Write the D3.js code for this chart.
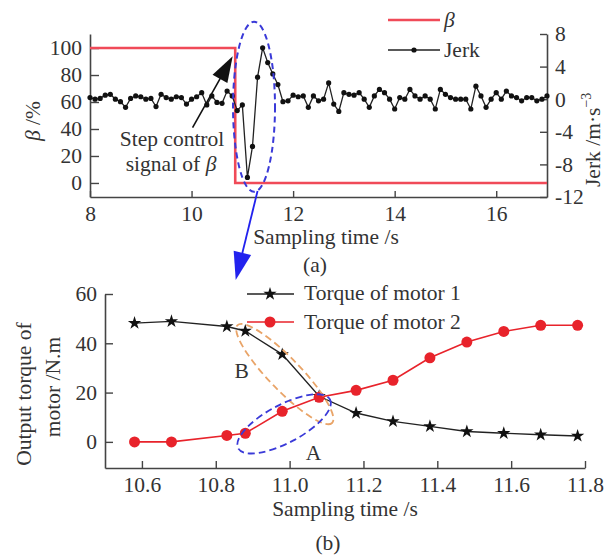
<!DOCTYPE html>
<html><head><meta charset="utf-8">
<script src="https://cdn.jsdelivr.net/npm/d3@7"></script>
<style>
body{margin:0;background:#fff;}
svg text{font-family:"Liberation Serif","Times New Roman",serif;fill:#333;}
</style></head>
<body><svg id="c" width="606" height="560"></svg>
<script>
// ---------- data: panel (a) ----------
const betaTime = [8, 10.86, 10.86, 17];
const betaValue = [100, 100, 0, 0];
const jerkTime = [8.0,8.1,8.2,8.3,8.4,8.5,8.6,8.7,8.8,8.9,9.0,9.1,9.2,9.3,9.4,9.5,9.6,9.7,9.8,9.9,
  10.0,10.1,10.2,10.3,10.4,10.5,10.6,10.7,10.8,10.9,11.0,11.1,11.2,11.3,11.4,11.5,11.6,11.7,11.8,11.9,
  12.0,12.1,12.2,12.3,12.4,12.5,12.6,12.7,12.8,12.9,13.0,13.1,13.2,13.3,13.4,13.5,13.6,13.7,13.8,13.9,
  14.0,14.1,14.2,14.3,14.4,14.5,14.6,14.7,14.8,14.9,15.0,15.1,15.2,15.3,15.4,15.5,15.6,15.7,15.8,15.9,
  16.0,16.1,16.2,16.3,16.4,16.5,16.6,16.7,16.8,16.9,17.0];
const jerkValue = [0.2,0.0,0.1,0.5,0.6,0.0,-0.3,-1.0,0.1,0.4,0.3,0.0,0.1,-0.9,0.6,0.2,0.0,0.3,0.2,-0.6,
  0.0,0.3,0.8,-0.7,0.4,-0.4,-0.5,1.0,0.4,-1.4,-0.7,-9.6,-5.8,2.7,6.3,4.5,3.1,1.8,-0.3,-0.2,
  0.5,0.3,0.4,-1.0,0.4,-0.2,0.0,2.0,-0.6,-1.5,0.8,0.6,0.5,0.8,0.0,-1.0,0.4,1.2,0.8,0.0,
  -1.2,0.2,0.0,1.2,0.4,0.0,0.4,0.0,-1.2,1.2,0.6,0.2,0.0,0.0,0.0,-1.2,1.6,0.4,-1.0,0.0,
  0.8,0.0,1.0,0.4,0.2,-0.2,0.2,0.2,-0.2,0.0,0.4];
const aXTicks = [8, 10, 12, 14, 16];
const aLeftTicks = [0, 20, 40, 60, 80, 100];
const aRightTicks = [-12, -8, -4, 0, 4, 8];

// ---------- data: panel (b) ----------
const torqueTime = [10.58,10.68,10.83,10.88,10.98,11.08,11.18,11.28,11.38,11.48,11.58,11.68,11.78];
const torqueMotor1 = [48.2,48.9,46.8,45.0,35.5,18.5,11.7,8.3,6.3,4.2,3.5,2.9,2.4];
const torqueMotor2 = [0.0,0.0,2.6,3.5,12.4,18.1,20.9,25.0,34.1,40.5,44.8,47.3,47.3];
const bXTicks = [10.6, 10.8, 11.0, 11.2, 11.4, 11.6, 11.8];
const bYTicks = [0, 20, 40, 60];

const svg = d3.select("#c");
const AX = "#444", FS = 21.5;
const RED_A = "#f04a58", RED_B = "#e8232b", BLUE = "#3a3ad8", ORANGE = "#e9a468";

function styleAxis(g){
  g.select(".domain").attr("stroke", AX).attr("stroke-width", 1.6);
  g.selectAll(".tick line").attr("stroke", AX).attr("stroke-width", 1.4);
  g.selectAll(".tick text").attr("font-size", FS).attr("fill", "#333")
    .attr("font-family", '"Liberation Serif","Times New Roman",serif');
}

// ================= Panel (a) =================
const xA = d3.scaleLinear().domain([8, 17]).range([90, 547]);
const yL = d3.scaleLinear().domain([-10.4, 110.4]).range([197, 34]);
const yR = d3.scaleLinear().domain([-12, 8]).range([197, 34]);

const gA = svg.append("g");
gA.append("g").attr("transform", "translate(0,197)")
  .call(d3.axisBottom(xA).tickValues(aXTicks).tickSize(-6).tickSizeOuter(0).tickPadding(9).tickFormat(d3.format("d")))
  .call(styleAxis);
gA.append("g").attr("transform", "translate(90,0)")
  .call(d3.axisLeft(yL).tickValues(aLeftTicks).tickSize(-9).tickSizeOuter(0).tickPadding(8).tickFormat(d3.format("d")))
  .call(styleAxis);
gA.append("g").attr("transform", "translate(547,0)")
  .call(d3.axisRight(yR).tickValues(aRightTicks).tickSize(-7).tickSizeOuter(0).tickPadding(8).tickFormat(d => d < 0 ? "-" + Math.abs(d) : d))
  .call(styleAxis);

// beta step
const betaData = betaTime.map((t, i) => [t, betaValue[i]]);
gA.append("path").datum(betaData)
  .attr("d", d3.line().x(d => xA(d[0])).y(d => yL(d[1])))
  .attr("fill", "none").attr("stroke", RED_A).attr("stroke-width", 2.6);

// jerk
const jerkData = jerkTime.map((t, i) => [t, jerkValue[i]]);
gA.append("path").datum(jerkData)
  .attr("d", d3.line().x(d => xA(d[0])).y(d => yR(d[1])))
  .attr("fill", "none").attr("stroke", "#222").attr("stroke-width", 1.3);
gA.selectAll("circle.j").data(jerkData).enter().append("circle")
  .attr("cx", d => xA(d[0])).attr("cy", d => yR(d[1])).attr("r", 2.6).attr("fill", "#111");

// annotation ellipse (a)
const eAx = xA(11.23), eAy = yL(56.5);
gA.append("ellipse").attr("cx", eAx).attr("cy", eAy).attr("rx", 21).attr("ry", 85)
  .attr("fill", "none").attr("stroke", BLUE).attr("stroke-width", 2).attr("stroke-dasharray", "6,4");

function arrow(g, x1, y1, x2, y2, color, w, hl, hw){
  const dx = x2 - x1, dy = y2 - y1, L = Math.hypot(dx, dy), ux = dx / L, uy = dy / L;
  const bx = x2 - ux * hl, by = y2 - uy * hl;
  g.append("line").attr("x1", x1).attr("y1", y1).attr("x2", bx + ux * 2).attr("y2", by + uy * 2)
    .attr("stroke", color).attr("stroke-width", w);
  g.append("path").attr("d", `M${x2},${y2}L${bx - uy * hw / 2},${by + ux * hw / 2}L${bx + uy * hw / 2},${by - ux * hw / 2}Z`)
    .attr("fill", color);
}
// black arrow to the step
arrow(gA, xA(10.02), yL(41), xA(10.81), yL(94), "#111", 1.6, 26, 17);
gA.append("text").attr("x", 172).attr("y", 146).attr("text-anchor", "middle").attr("font-size", FS).text("Step control");
const st = gA.append("text").attr("x", 171).attr("y", 171).attr("text-anchor", "middle").attr("font-size", FS);
st.append("tspan").text("signal of ");
st.append("tspan").attr("font-style", "italic").text("β");

// blue arrow to panel (b)
arrow(svg, xA(11.3), 191, xA(10.87), 280, "#2222ee", 1.8, 28, 18);

// axis titles (a)
svg.append("text").attr("transform", "translate(40,121) rotate(-90)").attr("text-anchor", "middle")
  .attr("font-size", FS).html('<tspan font-style="italic">β</tspan> /%');
const jl = svg.append("text").attr("transform", "translate(600,187) rotate(-90)").attr("font-size", FS);
jl.append("tspan").text("Jerk /m·s");
jl.append("tspan").attr("font-size", 14).attr("dy", -9).text("−3");
svg.append("text").attr("x", 326).attr("y", 244).attr("text-anchor", "middle").attr("font-size", FS).text("Sampling time /s");
svg.append("text").attr("x", 315).attr("y", 272).attr("text-anchor", "middle").attr("font-size", FS).text("(a)");

// legend (a)
const lgA = svg.append("g");
lgA.append("line").attr("x1", 388).attr("x2", 440).attr("y1", 20).attr("y2", 20).attr("stroke", RED_A).attr("stroke-width", 2.6);
lgA.append("text").attr("x", 444).attr("y", 27).attr("font-size", FS).attr("font-style", "italic").text("β");
lgA.append("line").attr("x1", 388).attr("x2", 440).attr("y1", 50).attr("y2", 50).attr("stroke", "#222").attr("stroke-width", 1.3);
lgA.append("circle").attr("cx", 414).attr("cy", 50).attr("r", 2.6).attr("fill", "#111");
lgA.append("text").attr("x", 444).attr("y", 57).attr("font-size", FS).text("Jerk");

// ================= Panel (b) =================
const xB = d3.scaleLinear().domain([10.5, 11.8]).range([105, 585]);
const yB = d3.scaleLinear().domain([-10.6, 60]).range([468, 294]);
const gB = svg.append("g");
gB.append("g").attr("transform", "translate(0,468)")
  .call(d3.axisBottom(xB).tickValues(bXTicks).tickSize(-7).tickSizeOuter(0).tickPadding(9).tickFormat(d3.format(".1f")))
  .call(styleAxis);
gB.append("g").attr("transform", "translate(105,0)")
  .call(d3.axisLeft(yB).tickValues(bYTicks).tickSize(-8).tickSizeOuter(0).tickPadding(8).tickFormat(d3.format("d")))
  .call(styleAxis);

const m1 = torqueTime.map((t, i) => [t, torqueMotor1[i]]);
const m2 = torqueTime.map((t, i) => [t, torqueMotor2[i]]);
const lineB = d3.line().x(d => xB(d[0])).y(d => yB(d[1]));

gB.append("path").datum(m1).attr("d", lineB).attr("fill", "none").attr("stroke", "#222").attr("stroke-width", 1.4);
gB.append("path").datum(m2).attr("d", lineB).attr("fill", "none").attr("stroke", RED_B).attr("stroke-width", 1.6);
const star = d3.symbol().type(d3.symbolStar).size(55);
gB.selectAll("path.s").data(m1).enter().append("path")
  .attr("d", star).attr("transform", d => `translate(${xB(d[0])},${yB(d[1])})`).attr("fill", "#111");
gB.selectAll("circle.m2").data(m2).enter().append("circle")
  .attr("cx", d => xB(d[0])).attr("cy", d => yB(d[1])).attr("r", 5.5).attr("fill", RED_B);

// ellipse B (orange) and A (blue)
gB.append("ellipse").attr("transform", `translate(${xB(10.987)},${yB(27.5)}) rotate(46)`)
  .attr("rx", 68).attr("ry", 16).attr("fill", "none").attr("stroke", ORANGE).attr("stroke-width", 1.8).attr("stroke-dasharray", "7,4");
gB.append("ellipse").attr("transform", `translate(${xB(10.985)},${yB(7.3)}) rotate(-28)`)
  .attr("rx", 52).attr("ry", 19).attr("fill", "none").attr("stroke", BLUE).attr("stroke-width", 1.8).attr("stroke-dasharray", "7,4");
gB.append("text").attr("x", xB(10.87)).attr("y", yB(26)).attr("text-anchor", "middle").attr("font-size", FS).text("B");
gB.append("text").attr("x", xB(11.065)).attr("y", yB(-7.5)).attr("text-anchor", "middle").attr("font-size", FS).text("A");

// legend (b)
const lgB = svg.append("g");
lgB.append("line").attr("x1", 247).attr("x2", 294).attr("y1", 294).attr("y2", 294).attr("stroke", "#222").attr("stroke-width", 1.4);
lgB.append("path").attr("d", star).attr("transform", "translate(270,294)").attr("fill", "#111");
lgB.append("text").attr("x", 304).attr("y", 300).attr("font-size", FS).text("Torque of motor 1");
lgB.append("line").attr("x1", 247).attr("x2", 294).attr("y1", 322).attr("y2", 322).attr("stroke", RED_B).attr("stroke-width", 1.6);
lgB.append("circle").attr("cx", 270).attr("cy", 322).attr("r", 5.5).attr("fill", RED_B);
lgB.append("text").attr("x", 304).attr("y", 329).attr("font-size", FS).text("Torque of motor 2");

// axis titles (b)
svg.append("text").attr("transform", "translate(31,394) rotate(-90)").attr("text-anchor", "middle").attr("font-size", FS).text("Output torque of");
svg.append("text").attr("transform", "translate(60,387) rotate(-90)").attr("text-anchor", "middle").attr("font-size", FS).text("motor /N.m");
svg.append("text").attr("x", 345).attr("y", 516).attr("text-anchor", "middle").attr("font-size", FS).text("Sampling time /s");
svg.append("text").attr("x", 328).attr("y", 550).attr("text-anchor", "middle").attr("font-size", FS).text("(b)");
</script></body></html>
